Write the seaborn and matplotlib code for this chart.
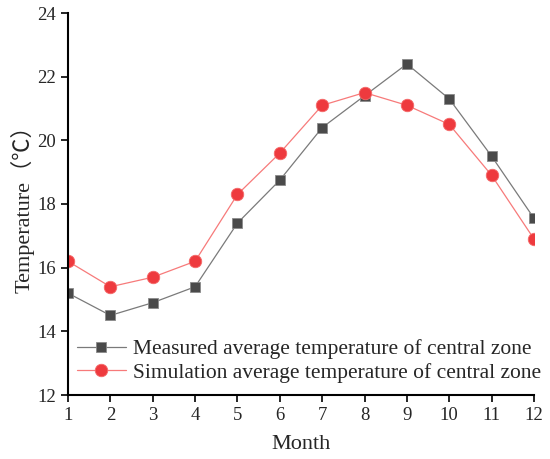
import matplotlib
matplotlib.use("Agg")
import matplotlib.pyplot as plt
import seaborn as sns
import pandas as pd

months = list(range(1, 13))
measured = [15.2, 14.5, 14.9, 15.4, 17.4, 18.75, 20.4, 21.4, 22.4, 21.3, 19.5, 17.55]
simulated = [16.2, 15.4, 15.7, 16.2, 18.3, 19.6, 21.1, 21.5, 21.1, 20.5, 18.9, 16.9]
label_meas = "Measured average temperature of central zone"
label_sim = "Simulation average temperature of central zone"

sns.set_style("ticks")
plt.rcParams['font.family'] = ['Liberation Serif', 'Noto Sans CJK SC', 'DejaVu Sans']

df = pd.DataFrame({"Month": months * 2,
                   "T": measured + simulated,
                   "Series": [label_meas] * 12 + [label_sim] * 12})

fig = plt.figure(figsize=(5.5, 4.59), dpi=100)
ax = fig.add_axes([68/550, 1 - 395/459, (534-68)/550, (395-13)/459])

sns.lineplot(data=df[df.Series == label_meas], x="Month", y="T", ax=ax,
             color="#7a7a7a", lw=0.9, marker="s", markersize=7.5,
             markerfacecolor="#4a4a4a", markeredgecolor="#8a8a8a", markeredgewidth=0.6,
             label=label_meas)
sns.lineplot(data=df[df.Series == label_sim], x="Month", y="T", ax=ax,
             color="#f77a7a", lw=0.9, marker="o", markersize=9,
             markerfacecolor="#ee3a3e", markeredgecolor="#f56a6a", markeredgewidth=0.6,
             label=label_sim)

ax.set_xlim(1, 12)
ax.set_ylim(12, 24)
ax.set_xticks(months)
ax.set_yticks([12, 14, 16, 18, 20, 22, 24])
ax.tick_params(axis="both", direction="out", length=5, width=1.2, labelsize=13.5, color="black")
for s in ["left", "bottom"]:
    ax.spines[s].set_linewidth(1.5)
    ax.spines[s].set_color("black")
sns.despine(ax=ax)
ax.set_xlabel("Month", fontsize=16, labelpad=8)
ax.set_ylabel("Temperature\uff08\u2103\uff09", fontsize=16, labelpad=2)
ax.legend(loc="lower left", bbox_to_anchor=(0.0, 0.01), frameon=False, fontsize=15.5,
          handlelength=2.3, handletextpad=0.3, labelspacing=0.15, borderaxespad=0.0)
fig.savefig("out.png", dpi=100)
